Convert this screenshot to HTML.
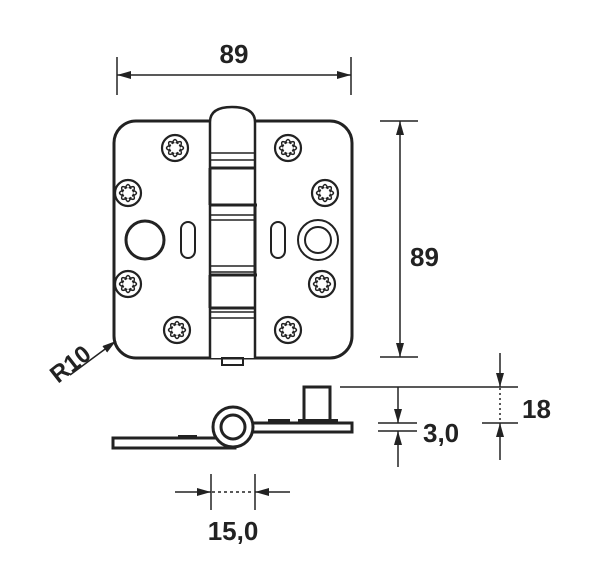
<!DOCTYPE html>
<html><head><meta charset="utf-8"><style>
html,body{margin:0;padding:0;background:#fff;}
svg{display:block;}
text{font-family:"Liberation Sans",Arial,sans-serif;font-weight:bold;fill:#222;}
</style></head><body>
<svg width="600" height="581" viewBox="0 0 600 581" xmlns="http://www.w3.org/2000/svg">
<defs>
<g id="scr">
<circle r="13" fill="#fff" stroke="#222" stroke-width="2.2"/>
<g fill="none" stroke="#222" stroke-width="1.5">
<path d="M-3,-4 Q0,-13 3,-4"/>
<path d="M-3,-4 Q0,-13 3,-4" transform="rotate(45)"/>
<path d="M-3,-4 Q0,-13 3,-4" transform="rotate(90)"/>
<path d="M-3,-4 Q0,-13 3,-4" transform="rotate(135)"/>
<path d="M-3,-4 Q0,-13 3,-4" transform="rotate(180)"/>
<path d="M-3,-4 Q0,-13 3,-4" transform="rotate(225)"/>
<path d="M-3,-4 Q0,-13 3,-4" transform="rotate(270)"/>
<path d="M-3,-4 Q0,-13 3,-4" transform="rotate(315)"/>
</g>
</g>
<marker id="ar" markerWidth="14" markerHeight="8" refX="14" refY="4" orient="auto" markerUnits="userSpaceOnUse">
<path d="M0,0 L14,4 L0,8 Z" fill="#222"/>
</marker>
</defs>
<g stroke="#222" fill="none">
<rect x="114" y="121" width="238" height="237" rx="22" stroke-width="3" fill="#fff"/>
<path d="M210,358 L210,122 Q210,107 232,107 Q255,107 255,122 L255,358" stroke-width="2.5" fill="#fff"/>
<rect x="222" y="358" width="21" height="7" stroke-width="2"/>
<g stroke-width="1.5">
<line x1="210" y1="153" x2="255" y2="153"/><line x1="210" y1="160" x2="255" y2="160"/>
<line x1="210" y1="215" x2="255" y2="215"/><line x1="210" y1="220" x2="255" y2="220"/>
<line x1="210" y1="266" x2="255" y2="266"/><line x1="210" y1="272" x2="255" y2="272"/>
<line x1="210" y1="312" x2="255" y2="312"/><line x1="210" y1="318" x2="255" y2="318"/>
</g>
<g stroke-width="3">
<line x1="210" y1="168" x2="255" y2="168"/><line x1="210" y1="205" x2="257" y2="205"/>
<line x1="210" y1="275" x2="257" y2="275"/><line x1="210" y1="308" x2="255" y2="308"/>
<line x1="210" y1="168" x2="210" y2="205"/><line x1="255" y1="205" x2="255" y2="275"/>
<line x1="210" y1="275" x2="210" y2="308"/>
</g>
<circle cx="145" cy="240" r="19" stroke-width="3"/>
<rect x="181" y="222" width="14" height="36" rx="7" stroke-width="2"/>
<rect x="271" y="222" width="14" height="36" rx="7" stroke-width="2"/>
<circle cx="318" cy="240" r="20" stroke-width="2"/>
<circle cx="318" cy="240" r="13" stroke-width="2"/>
</g>
<use href="#scr" x="175" y="148"/><use href="#scr" x="288" y="148"/>
<use href="#scr" x="128" y="193"/><use href="#scr" x="325" y="193"/>
<use href="#scr" x="128" y="284"/><use href="#scr" x="322" y="284"/>
<use href="#scr" x="177" y="330"/><use href="#scr" x="288" y="330"/>

<g stroke="#222" stroke-width="3" fill="#fff">
<rect x="113" y="438" width="122" height="10"/>
<rect x="250" y="423" width="102" height="9"/>
<circle cx="233" cy="427" r="20"/>
<circle cx="233" cy="427" r="12"/>
<rect x="304" y="387" width="26" height="36"/>
</g>
<g fill="#222">
<rect x="178" y="435" width="19" height="4"/>
<rect x="268" y="419" width="22" height="4"/>
<rect x="298" y="419" width="40" height="4"/>
</g>

<g stroke="#222" stroke-width="1.5" fill="none">
<line x1="117" y1="57" x2="117" y2="95"/><line x1="351" y1="57" x2="351" y2="95"/>
<line x1="132" y1="75" x2="117" y2="75" marker-end="url(#ar)"/>
<line x1="132" y1="75" x2="351" y2="75" marker-end="url(#ar)"/>
<line x1="380" y1="121" x2="418" y2="121"/><line x1="380" y1="357" x2="418" y2="357"/>
<line x1="400" y1="140" x2="400" y2="121" marker-end="url(#ar)"/>
<line x1="400" y1="140" x2="400" y2="357" marker-end="url(#ar)"/>
<line x1="70" y1="375" x2="116" y2="341" marker-end="url(#ar)"/>
<line x1="340" y1="387" x2="518" y2="387"/>
<line x1="500" y1="353" x2="500" y2="387" marker-end="url(#ar)"/>
<line x1="500" y1="388" x2="500" y2="422" stroke-dasharray="2,3"/>
<line x1="482" y1="423" x2="518" y2="423"/>
<line x1="500" y1="460" x2="500" y2="423" marker-end="url(#ar)"/>
<line x1="398" y1="387" x2="398" y2="423" marker-end="url(#ar)"/>
<line x1="378" y1="423" x2="417" y2="423"/><line x1="378" y1="431" x2="417" y2="431"/>
<line x1="398" y1="467" x2="398" y2="431" marker-end="url(#ar)"/>
<line x1="211" y1="474" x2="211" y2="510"/><line x1="255" y1="474" x2="255" y2="510"/>
<line x1="175" y1="492" x2="211" y2="492" marker-end="url(#ar)"/>
<line x1="290" y1="492" x2="255" y2="492" marker-end="url(#ar)"/>
<line x1="212" y1="492" x2="254" y2="492" stroke-dasharray="3,3"/>
</g>
<text x="234" y="63" font-size="26" text-anchor="middle">89</text>
<text x="410" y="266" font-size="26">89</text>
<text x="522" y="418" font-size="26">18</text>
<text x="423" y="442" font-size="26">3,0</text>
<text x="233" y="540" font-size="26" text-anchor="middle">15,0</text>
<text x="0" y="0" font-size="24" transform="translate(58,384) rotate(-38)">R10</text>
</svg>
</body></html>
